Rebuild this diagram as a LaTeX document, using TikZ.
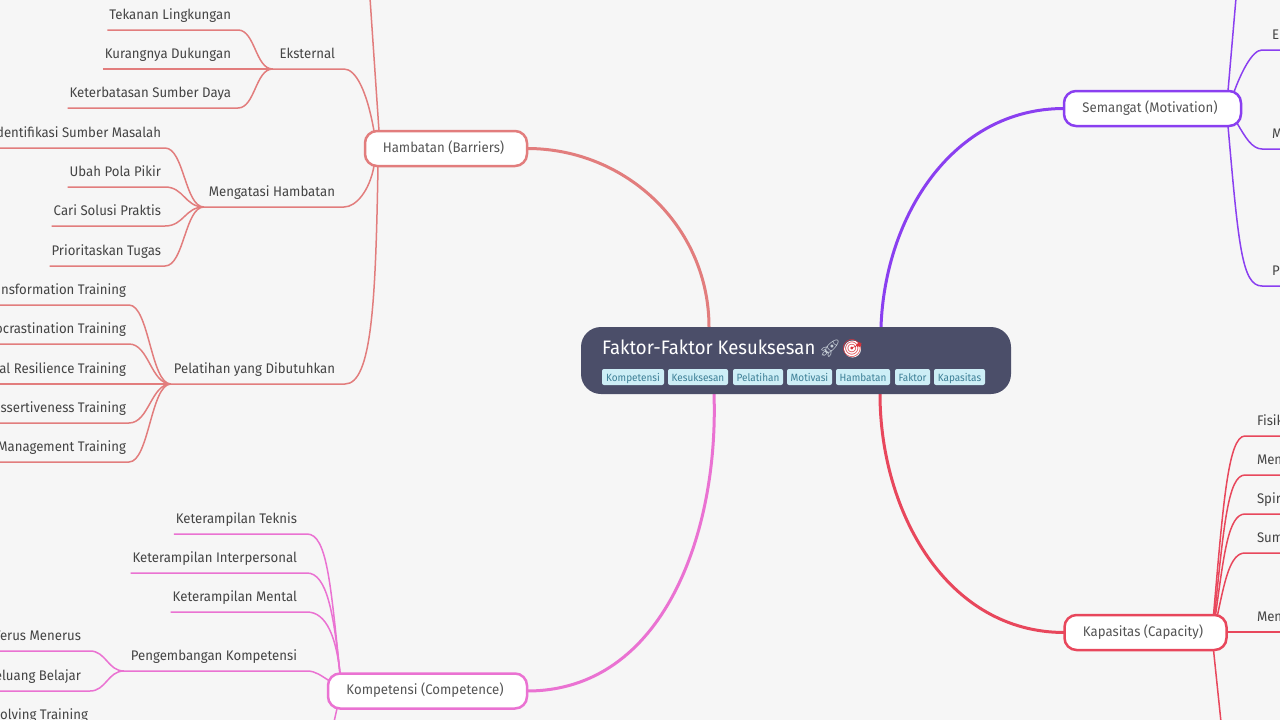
\documentclass[tikz,border=0pt]{standalone}
\usepackage{fontspec}
\setmainfont[FakeStretch=0.95]{Fira Sans}
\newfontfamily\emojifont{Noto Emoji}
\definecolor{bgc}{HTML}{F6F6F6}
\definecolor{txt}{HTML}{444444}
\definecolor{boxtxt}{HTML}{555555}
\definecolor{ham}{HTML}{E27D7D}
\definecolor{sem}{HTML}{8A3FF0}
\definecolor{kap}{HTML}{E8475C}
\definecolor{kom}{HTML}{EA72D2}
\definecolor{rootc}{HTML}{4B4E69}
\definecolor{tagf}{HTML}{CDEEF6}
\definecolor{tagt}{HTML}{3D7F96}
\definecolor{rocketc}{HTML}{C5CDD6}
\definecolor{targetc}{HTML}{D9323A}
\pgfdeclarelayer{bg}
\pgfsetlayers{bg,main}
\tikzset{
  every node/.style={outer sep=0pt},
  leaf/.style 2 args={inner xsep=0pt,inner ysep=0pt,text=txt,font=\fontsize{13.9}{16}\selectfont,
    text height=12pt,text depth=10.5pt,
    execute at begin node={\kern#1pt},execute at end node={\kern#2pt}},
  lnode/.style 2 args={leaf={#1}{#2},anchor=south east},
  rnode/.style={leaf={#1}{0},anchor=south west},
  topbox/.style={draw=#1,fill=white,line width=2.5pt,rounded corners=12pt,text=boxtxt,
    font=\fontsize{13.9}{16}\selectfont,minimum height=35pt,inner sep=0pt,text height=9pt,text depth=2pt,
    execute at end node={\kern5pt}},
  rootbox/.style={fill=rootc,rounded corners=20pt,minimum width=430pt,minimum height=67pt,inner sep=0pt},
  title/.style={text=white,font=\fontsize{19.5}{22}\selectfont,inner sep=0pt,anchor=west},
  emoji/.style={text=#1,font=\emojifont\fontsize{17.5}{20}\selectfont,inner sep=0pt},
  tag/.style={fill=tagf,text=tagt,rounded corners=2pt,font=\fontsize{10.5}{12}\selectfont,inner sep=0pt,
    minimum height=16pt,text height=9pt,text depth=0pt},
  main/.style={draw=#1,line width=3pt},
  sub/.style={draw=#1,line width=1.5pt},
  curve/.style={out=0,in=180,distance=#1},
}
\begin{document}
\begin{tikzpicture}[x=1pt,y=-1pt]
\useasboundingbox (0,0) rectangle (1280,720);
\clip (0,0) rectangle (1280,720);
\begin{pgfonlayer}{bg}
\fill[bgc] (0,0) rectangle (1280,720);
\end{pgfonlayer}
\coordinate (edgeL) at (-2,0);
\coordinate (edgeR) at (1282,0);
\coordinate (hamUp) at (370,-2);
\coordinate (semUp) at (1236,-2);
\coordinate (kapDown) at (1221,722);
\coordinate (komDown) at (334,722);
% root
\node[rootbox] (root) at (796,360.5) {};
\node[title] (rootTitle) at (602,347) {Faktor-Faktor Kesuksesan};
\node[emoji=rocketc] (rocket) at (830,349) {🚀};
\fill[white] (852.5,349) circle (8.5pt);
\node[emoji=targetc] (target) at (852.5,349) {🎯};
\node[tag,minimum width=62pt] (t1) at (633,377) {Kompetensi};
\node[tag,minimum width=60pt] (t2) at (698,377) {Kesuksesan};
\node[tag,minimum width=50pt] (t3) at (758,377) {Pelatihan};
\node[tag,minimum width=45pt] (t4) at (809.5,377) {Motivasi};
\node[tag,minimum width=54pt] (t5) at (863,377) {Hambatan};
\node[tag,minimum width=35pt] (t6) at (912.5,377) {Faktor};
\node[tag,minimum width=51pt] (t7) at (959.5,377) {Kapasitas};
% top boxes
\node[topbox=ham,minimum width=162pt] (hamB) at (446,148.5) {Hambatan (Barriers)};
\node[topbox=sem,minimum width=177pt] (semB) at (1152.5,108.5) {Semangat (Motivation)};
\node[topbox=kap,minimum width=162pt] (kapB) at (1145.5,632.5) {Kapasitas (Capacity)};
\node[topbox=kom,minimum width=199pt] (komB) at (427.5,691) {Kompetensi (Competence)};
% Hambatan subtree
\node[lnode={7}{9}] (eks) at (344,69) {Eksternal};
\node[lnode={2}{7}] (h1) at (238,30) {Tekanan Lingkungan};
\node[lnode={2}{7}] (h2) at (238,69) {Kurangnya Dukungan};
\node[lnode={2}{7}] (h3) at (238,108) {Keterbatasan Sumber Daya};
\node[lnode={5}{9}] (men) at (344,207) {Mengatasi Hambatan};
\node[lnode={0}{4}] (h4) at (165,148) {dentifikasi Sumber Masalah};
\node[lnode={2}{4}] (h5) at (165,187) {Ubah Pola Pikir};
\node[lnode={2}{4}] (h6) at (165,226) {Cari Solusi Praktis};
\node[lnode={2}{4}] (h7) at (165,266) {Prioritaskan Tugas};
\node[lnode={3}{10}] (pel) at (345,384) {Pelatihan yang Dibutuhkan};
\node[lnode={0}{3}] (p1) at (129,305) {nsformation Training};
\node[lnode={0}{3}] (p2) at (129,344) {ocrastination Training};
\node[lnode={0}{3}] (p3) at (129,384) {al Resilience Training};
\node[lnode={0}{3}] (p4) at (129,423) {ssertiveness Training};
\node[lnode={0}{3}] (p5) at (129,462) {Management Training};
% Kompetensi subtree
\node[lnode={2}{10}] (k1) at (307,534) {Keterampilan Teknis};
\node[lnode={2}{10}] (k2) at (307,573) {Keterampilan Interpersonal};
\node[lnode={2}{10}] (k3) at (307,612) {Keterampilan Mental};
\node[lnode={7}{10}] (k4) at (307,671) {Pengembangan Kompetensi};
\node[lnode={0}{9}] (k5) at (90,651) {Terus Menerus};
\node[lnode={0}{9}] (k6) at (90,691) {eluang Belajar};
\node[lnode={0}{0}] (k7) at (88,730) {olving Training};
% Semangat subtree
\node[rnode=10] (s1) at (1262,50) {E};
\node[rnode=10] (s2) at (1262,149) {M};
\node[rnode=10] (s3) at (1262,286) {P};
% Kapasitas subtree
\node[rnode=12] (c1) at (1245,436) {Fisik};
\node[rnode=12] (c2) at (1245,475) {Men};
\node[rnode=12] (c3) at (1245,514) {Spir};
\node[rnode=12] (c4) at (1245,553) {Sum};
\node[rnode=31] (c5) at (1226,632) {Men};
\begin{pgfonlayer}{bg}
% main branches
\draw[main=ham] ([xshift=128pt]root.north west) to[out=90,in=0] (hamB.east);
\draw[main=sem] ([xshift=300pt]root.north west) to[out=88,in=180] (semB.west);
\draw[main=kap] ([xshift=299pt]root.south west) to[out=-90,in=180] (kapB.west);
\draw[main=kom] ([xshift=133pt]root.south west) to[out=-88,in=0] (komB.east);
% Hambatan
\draw[sub=ham] ([xshift=14pt]hamB.north west) -- (hamUp);
\draw[sub=ham] ([xshift=9pt]hamB.north west) to[out=100,in=0,out distance=40pt,in distance=12pt] (eks.south east) -- (eks.south west);
\draw[sub=ham] ([xshift=9pt]hamB.south west) to[out=-100,in=0,out distance=25pt,in distance=12pt] (men.south east) -- (men.south west);
\draw[sub=ham] ([xshift=13pt]hamB.south west) to[out=-91,in=0,out distance=134pt,in distance=27pt] (pel.south east) -- (pel.south west);
\foreach \c in {h1,h2,h3}
  \draw[sub=ham] (\c.south west) -- (\c.south east) to[curve=17pt] (eks.south west);
\draw[sub=ham] (h4.south west -| edgeL) -- (h4.south east) to[curve=19pt] (men.south west);
\foreach \c in {h5,h6,h7}
  \draw[sub=ham] (\c.south west) -- (\c.south east) to[curve=19pt] (men.south west);
\foreach \c in {p1,p2,p3,p4,p5}
  \draw[sub=ham] (\c.south west -| edgeL) -- (\c.south east) to[curve=20pt] (pel.south west);
% Kompetensi
\foreach \c/\d in {k1/90,k2/60,k3/35}
  \draw[sub=kom] (\c.south west) -- (\c.south east) to[out=0,in=96,out distance=20pt,in distance=\d pt] ([xshift=12pt]komB.north west);
\draw[sub=kom] (k4.south west) -- (k4.south east) to[out=0,in=150,distance=9pt] ([xshift=1pt,yshift=-7pt]komB.north west);
\foreach \c in {k5,k6}
  \draw[sub=kom] (\c.south west -| edgeL) -- (\c.south east) to[curve=16pt] (k4.south west);
\draw[sub=kom] ([xshift=9pt]komB.south west) -- (komDown);
% Semangat
\draw[sub=sem] ([xshift=164pt]semB.north west) -- (semUp);
\draw[sub=sem] ([xshift=170pt,yshift=-1pt]semB.north west) to[out=70,in=180,out distance=20pt,in distance=10pt] (s1.south west) -- (s1.south west -| edgeR);
\draw[sub=sem] ([xshift=173pt,yshift=3pt]semB.south west) to[out=-60,in=180,out distance=16pt,in distance=10pt] (s2.south west) -- (s2.south west -| edgeR);
\draw[sub=sem] ([xshift=164pt]semB.south west) to[out=-85,in=180,out distance=120pt,in distance=20pt] (s3.south west) -- (s3.south west -| edgeR);
% Kapasitas
\draw[sub=kap] ([xshift=149pt]kapB.north west) to[out=85,in=180,out distance=110pt,in distance=17pt] (c1.south west) -- (c1.south west -| edgeR);
\draw[sub=kap] ([xshift=150pt]kapB.north west) to[out=84,in=180,out distance=90pt,in distance=17pt] (c2.south west) -- (c2.south west -| edgeR);
\draw[sub=kap] ([xshift=151pt]kapB.north west) to[out=82,in=180,out distance=60pt,in distance=17pt] (c3.south west) -- (c3.south west -| edgeR);
\draw[sub=kap] ([xshift=153pt]kapB.north west) to[out=78,in=180,out distance=35pt,in distance=15pt] (c4.south west) -- (c4.south west -| edgeR);
\draw[sub=kap] (c5.south west) -- (c5.south west -| edgeR);
\draw[sub=kap] ([xshift=149pt]kapB.south west) -- (kapDown);
\end{pgfonlayer}
\end{tikzpicture}
\end{document}
